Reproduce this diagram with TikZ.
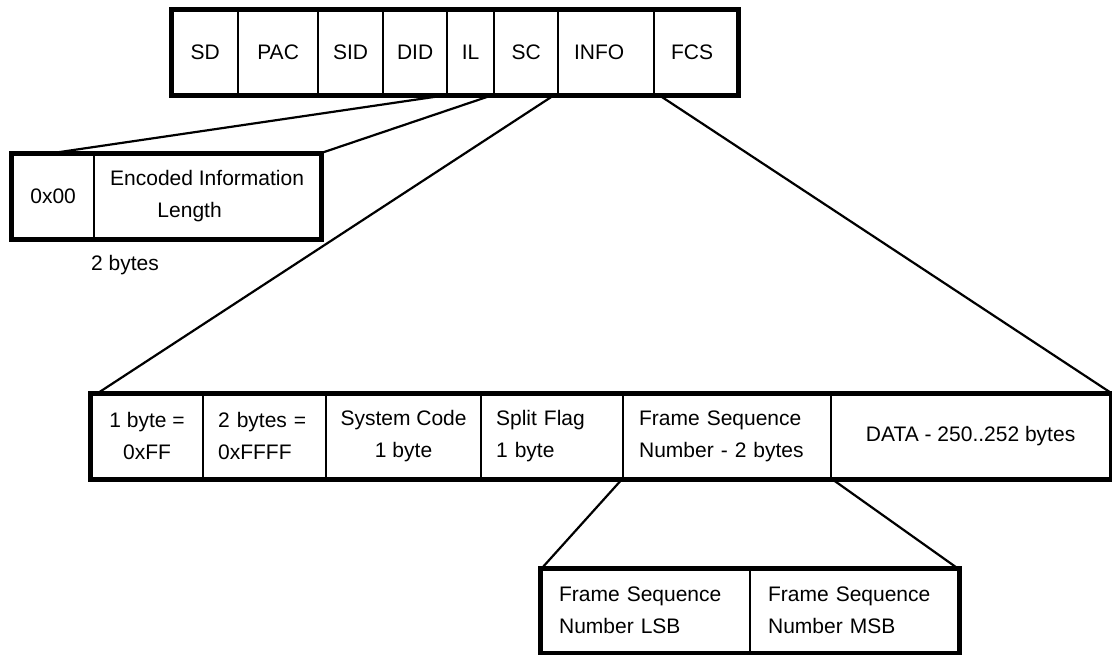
\documentclass[tikz,border=0pt]{standalone}
\usepackage{fontspec}
\setmainfont{Liberation Sans}
\begin{document}
\begin{tikzpicture}[x=1pt,y=-1pt,
  txt/.style={font=\fontsize{21}{32}\selectfont},
  cell/.style={txt, draw, line width=2.2pt, anchor=north west, inner ysep=0pt,
    inner xsep=0pt, align=center, minimum height=84pt},
  lcell/.style={cell, align=left},
  frame/.style={line width=5pt},
  link/.style={line width=2.2pt}]
\useasboundingbox (0,0) rectangle (1112,654);

% top-level frame
\node[cell, minimum width=66pt] (sd)  at (171,9) {SD};
\node[cell, minimum width=80pt] (pac) at (237,9) {PAC};
\node[cell, minimum width=65pt] (sid) at (317,9) {SID};
\node[cell, minimum width=64pt] (did) at (382,9) {DID};
\node[cell, minimum width=47pt] (il)  at (446,9) {IL};
\node[cell, minimum width=64pt] (sc)  at (493,9) {SC};
\node[lcell, inner xsep=16pt, text width=64pt] (info) at (557,9) {INFO};
\node[lcell, inner xsep=17pt, text width=49pt] (fcs)  at (653,9) {FCS};
\draw[frame] (sd.north west) rectangle (fcs.south east);

% IL field
\node[cell, minimum width=82pt]  (zero) at (11,153) {0x00};
\node[cell, minimum width=226pt] (elen) at (93,153) {Encoded Information\\Length\hspace*{35pt}};
\draw[frame] (zero.north west) rectangle (elen.south east);
\node[txt] (ilsize) at (125,265) {2 bytes};

% INFO field
\node[cell, minimum width=112pt] (m1) at (90,393) {1 byte =\\0xFF};
\node[lcell, inner xsep=15pt, text width=93pt] (m2) at (202,393) {2 bytes =\\0xFFFF};
\node[cell, minimum width=155pt] (m3) at (325,393) {System Code\\1 byte};
\node[lcell, inner xsep=15pt, text width=112pt] (m4) at (480,393) {Split Flag\\1 byte};
\node[lcell, inner xsep=16pt, text width=176pt] (fsn) at (622,393) {Frame Sequence\\Number - 2 bytes};
\node[cell, minimum width=279pt] (data) at (830,393) {DATA - 250..252 bytes};
\draw[frame] (m1.north west) rectangle (data.south east);

% frame sequence number bytes
\node[lcell, minimum height=83pt, inner xsep=18pt, text width=173pt] (lsb) at (540,568) {Frame Sequence\\Number LSB};
\node[lcell, minimum height=83pt, inner xsep=18pt, text width=172pt] (msb) at (749,568) {Frame Sequence\\Number MSB};
\draw[frame] (lsb.north west) rectangle (msb.south east);

% expansion lines
\draw[link] (il.south west) -- (zero.north);
\draw[link] ([xshift=-3pt]il.south east) -- (elen.north east);
\draw[link] ([xshift=-3pt]info.south west) -- ([xshift=8pt]m1.north west);
\draw[link] ([xshift=4pt]info.south east) -- (data.north east);
\draw[link] (fsn.south west) -- ([xshift=2pt]lsb.north west);
\draw[link] (fsn.south east) -- ([xshift=-2pt]msb.north east);
\end{tikzpicture}
\end{document}
